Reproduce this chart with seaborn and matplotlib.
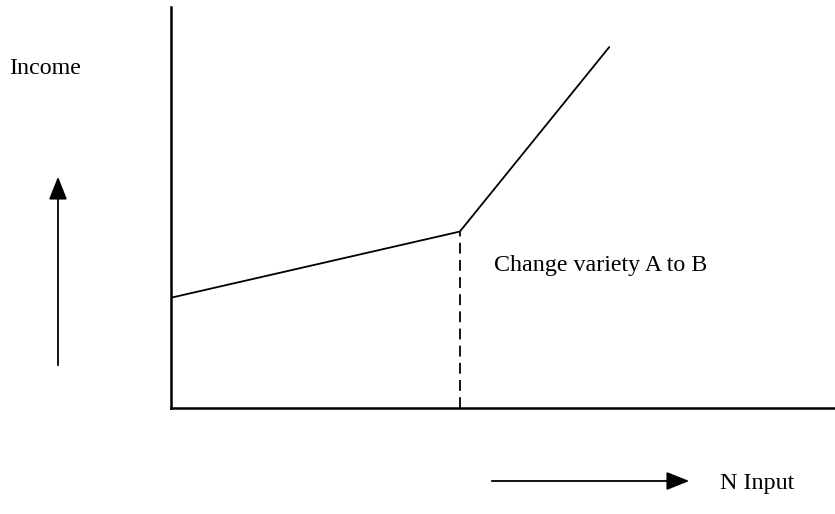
import matplotlib
matplotlib.use("Agg")
import matplotlib.pyplot as plt
import seaborn as sns
import pandas as pd

# income response to N input (schematic)
n_input = [0.0, 4.35, 6.6]
income = [2.75, 4.4, 9.0]
switch_x = 4.35
switch_y = 4.4

sns.set_style("white")
plt.rcParams["font.family"] = ["Liberation Serif", "DejaVu Serif"]

fig = plt.figure(figsize=(8.35, 5.14), dpi=100)
W, H = 835, 514
ax = fig.add_axes([171 / W, 1 - 408 / H, 1 - 171 / W, (408 - 7) / H])

df = pd.DataFrame({"n": n_input, "income": income})
sns.lineplot(data=df, x="n", y="income", ax=ax, color="black", lw=1.3)
ax.plot([switch_x, switch_x], [0, switch_y], color="black", lw=1.3, ls=(0, (6, 3.5)))

ax.set_xlim(0, 10)
ax.set_ylim(0, 10)
ax.set_xticks([])
ax.set_yticks([])
ax.set_xlabel("")
ax.set_ylabel("")
for side in ["top", "right"]:
    ax.spines[side].set_visible(False)
for side in ["left", "bottom"]:
    ax.spines[side].set_color("black")
    ax.spines[side].set_linewidth(1.8)

fs = 17.3
fig.text(9 / W, 1 - 69 / H, "Income", fontsize=fs, va="center", ha="left", color="black")
fig.text(494 / W, 1 - 266 / H, "Change variety A to B", fontsize=fs, va="center", ha="left", color="black")
fig.text(720 / W, 1 - 483 / H, "N Input", fontsize=fs, va="center", ha="left", color="black")

arrow = dict(arrowstyle="-|>,head_length=1.0,head_width=0.4", color="black", lw=1.3)
fig.add_artist(plt.matplotlib.patches.FancyArrowPatch(
    (58 / W, 1 - 368 / H), (58 / W, 1 - 174 / H), transform=fig.transFigure,
    mutation_scale=14, **arrow))
fig.add_artist(plt.matplotlib.patches.FancyArrowPatch(
    (489 / W, 1 - 481 / H), (692 / W, 1 - 481 / H), transform=fig.transFigure,
    mutation_scale=14, **arrow))

fig.savefig("out.png", dpi=100)
